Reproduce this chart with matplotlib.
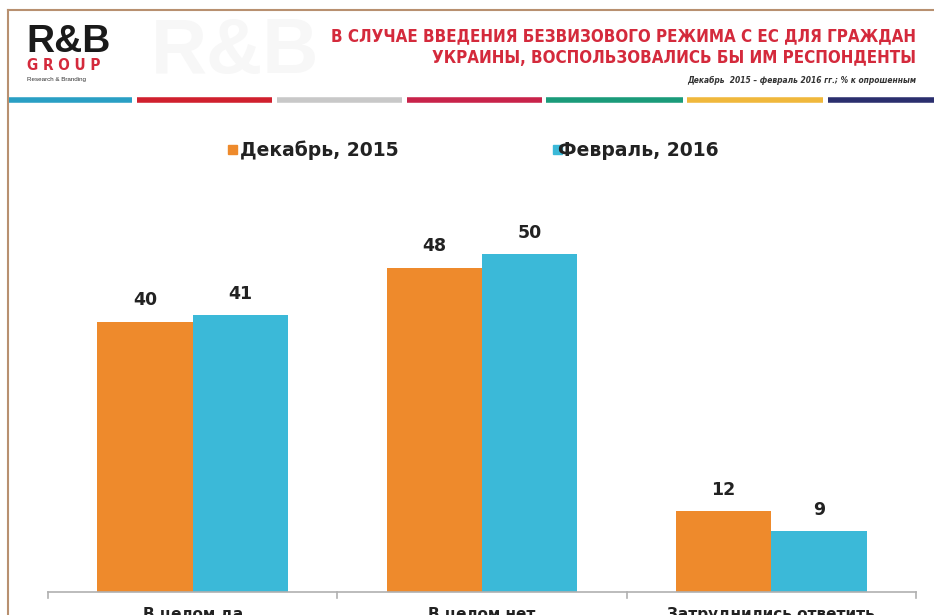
import numpy as np
import matplotlib.pyplot as plt
from matplotlib.patches import Rectangle
from matplotlib.lines import Line2D

categories = ['В целом да', 'В целом нет', 'Затруднились ответить']
series_names = ['Декабрь, 2015', 'Февраль, 2016']
dec_2015 = [40, 48, 12]
feb_2016 = [41, 50, 9]

title_1 = 'В СЛУЧАЕ ВВЕДЕНИЯ БЕЗВИЗОВОГО РЕЖИМА С ЕС ДЛЯ ГРАЖДАН'
title_2 = 'УКРАИНЫ, ВОСПОЛЬЗОВАЛИСЬ БЫ ИМ РЕСПОНДЕНТЫ'
subtitle = 'Декабрь  2015 – февраль 2016 гг.; % к опрошенным'

orange = '#ee8a2c'
blue = '#3bb9d8'
red = '#d42a3c'
stripe_colors = ['#2a9fc4', '#d0202e', '#c8c8c8', '#c8234a', '#1a9b7a', '#f0b83c', '#2b2f6e']

W, H = 934, 615
fig = plt.figure(figsize=(W / 100, H / 100), dpi=100)
fig.patch.set_facecolor('white')

def fx(px):
    return px / W

def fy(py):
    return 1 - py / H

# frame
fig.add_artist(Line2D([fx(8), 1], [fy(10), fy(10)], color='#b89070', lw=1.5))
fig.add_artist(Line2D([fx(8), fx(8)], [fy(10), 0], color='#b89070', lw=1.5))

# colour stripe
edges = [(9, 132), (137, 272), (277, 402), (407, 542), (546, 683), (687, 823), (828, 934)]
for (a, b), c in zip(edges, stripe_colors):
    fig.add_artist(Line2D([fx(a), fx(b)], [fy(100), fy(100)], color=c, lw=4, solid_capstyle='butt'))

# logo
fig.text(fx(235), fy(52), 'R&B', fontsize=56, fontweight='bold', color='#f7f7f7',
         va='center', ha='center', family='Liberation Sans', zorder=0)
fig.text(fx(26), fy(42), 'R&B', fontsize=28, fontweight='bold', color='#1a1a1a',
         va='center', ha='left', family='Liberation Sans')
fig.text(fx(27), fy(66), 'G R O U P', fontsize=11, fontweight='bold', color=red,
         va='center', ha='left', family='DejaVu Sans', fontstretch='condensed')
fig.text(fx(27), fy(79), 'Research & Branding', fontsize=4.5, color='#333333',
         va='center', ha='left', family='Liberation Sans')

# titles
fig.text(fx(916), fy(36), title_1, fontsize=12.2, fontweight='bold', color=red,
         ha='right', va='center', family='DejaVu Sans', fontstretch='condensed')
fig.text(fx(916), fy(58), title_2, fontsize=12.2, fontweight='bold', color=red,
         ha='right', va='center', family='DejaVu Sans', fontstretch='condensed')
fig.text(fx(916), fy(80), subtitle, fontsize=6, fontweight='bold', style='italic',
         color='#333333', ha='right', va='center', family='DejaVu Sans', fontstretch='condensed')

# axes
base_y = 592
top_y = 200
ax = fig.add_axes([fx(48), fy(base_y), fx(916) - fx(48), fy(top_y) - fy(base_y)])
ymax = (base_y - top_y) / 6.76
x = np.arange(len(categories))
w = 0.33
b1 = ax.bar(x - w / 2, dec_2015, w, color=orange)
b2 = ax.bar(x + w / 2, feb_2016, w, color=blue)
for bars, vals in [(b1, dec_2015), (b2, feb_2016)]:
    for r, v in zip(bars, vals):
        ax.text(r.get_x() + r.get_width() / 2, v + 1.8, str(v), ha='center', va='bottom',
                fontsize=12.5, fontweight='bold', color='#222222')

ax.set_xlim(-0.5, 2.5)
ax.set_ylim(0, ymax)
ax.set_yticks([])
ax.set_xticks([])
for s in ['top', 'right', 'left']:
    ax.spines[s].set_visible(False)
ax.spines['bottom'].set_color('#b0b0b0')
ax.spines['bottom'].set_linewidth(1.2)
for t in [-0.5, 0.5, 1.5, 2.5]:
    ax.plot([t, t], [0, -0.9], color='#b0b0b0', lw=1.2, clip_on=False)
ax.patch.set_alpha(0)
for i, c in enumerate(categories):
    ax.text(i, -2.2, c, ha='center', va='top', fontsize=11, fontweight='bold',
            color='#222222', clip_on=False)

# legend
leg_items = [(228, 240, orange, series_names[0]), (553, 558, blue, series_names[1])]
for sx, tx, c, name in leg_items:
    fig.add_artist(Rectangle((fx(sx), fy(154)), fx(9), 9 / H, color=c))
    fig.text(fx(tx), fy(150), name, fontsize=13.5, fontweight='bold', color='#222222',
             ha='left', va='center')

fig.savefig('out.png', dpi=100, facecolor='white')
